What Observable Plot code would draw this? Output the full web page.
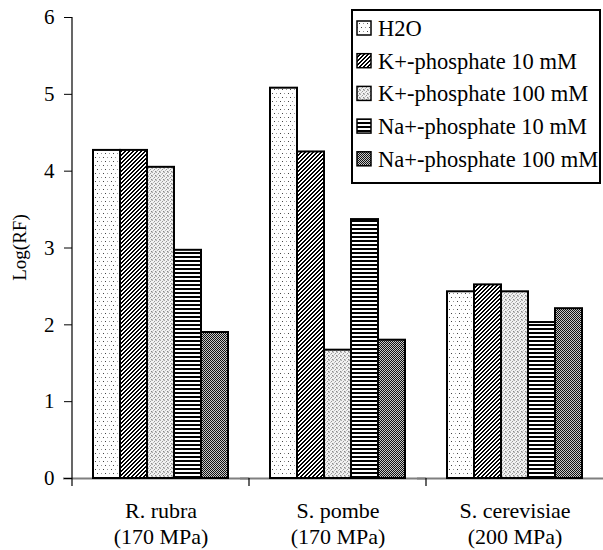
<!DOCTYPE html>
<html>
<head>
<meta charset="utf-8">
<script src="https://cdn.jsdelivr.net/npm/d3@7"></script>
<script src="https://cdn.jsdelivr.net/npm/@observablehq/plot@0.6"></script>
<style>
  html, body { margin: 0; padding: 0; background: #fff; }
  #chart svg { display: block; }
</style>
</head>
<body>
<div id="chart"></div>
<script>
// Organisms and their treatment pressure
const organisms = ["R. rubra", "S. pombe", "S. cerevisiae"];
const pressures = ["(170 MPa)", "(170 MPa)", "(200 MPa)"];

// Suspension media
const media = [
  "H2O",
  "K+-phosphate 10 mM",
  "K+-phosphate 100 mM",
  "Na+-phosphate 10 mM",
  "Na+-phosphate 100 mM"
];

// Log reduction factor per medium, one value per organism
const h2o     = [4.27, 5.08, 2.43];
const k10     = [4.27, 4.25, 2.52];
const k100    = [4.05, 1.67, 2.43];
const na10    = [2.97, 3.37, 2.03];
const na100   = [1.90, 1.80, 2.21];
const seriesValues = [h2o, k10, k100, na10, na100];

const yTicks = [0, 1, 2, 3, 4, 5, 6];

// Hatch fills for each medium
const patternIds = ["pat-h2o", "pat-k10", "pat-k100", "pat-na10", "pat-na100"];
const fills = patternIds.map(id => `url(#${id})`);

const rows = [];
organisms.forEach((org, i) => {
  media.forEach((m, j) => rows.push({organism: org, medium: m, value: seriesValues[j][i]}));
});

const serif = "'Liberation Serif', 'Times New Roman', serif";

const plot = Plot.plot({
  width: 603,
  height: 550,
  marginLeft: 72,
  marginRight: 0,
  marginTop: 17,
  marginBottom: 72,
  style: {fontFamily: serif, background: "white", color: "black"},
  fx: {domain: organisms, padding: 0, label: null},
  x: {domain: media, paddingInner: 0, paddingOuter: 0.73, axis: null},
  y: {domain: [0, 6], label: null},
  color: {domain: media, range: fills},
  marks: [
    Plot.ruleY([0], {stroke: "#7f7f7f", strokeWidth: 2, insetLeft: -9}),
    Plot.barY(rows, {
      fx: "organism",
      x: "medium",
      y: "value",
      fill: "medium",
      stroke: "black",
      strokeWidth: 2
    }),
    Plot.axisY({
      ticks: yTicks,
      tickSize: 8,
      tickPadding: 10,
      fontSize: 21,
      tickFormat: d3.format("d"),
      label: null
    }),
    Plot.axisFx({
      anchor: "bottom",
      tickSize: 0,
      tickPadding: 20,
      fontSize: 22,
      lineHeight: 1.22,
      label: null,
      tickFormat: d => d + "\n" + pressures[organisms.indexOf(d)]
    })
  ]
});

const svg = d3.select(plot);

// Pattern definitions
const defs = svg.insert("defs", ":first-child");
const px = (p, x, y, c) => p.append("rect").attr("x", x).attr("y", y)
  .attr("width", 1).attr("height", 1).attr("fill", c);

const pH = defs.append("pattern").attr("id", "pat-h2o")
  .attr("patternUnits", "userSpaceOnUse").attr("width", 8).attr("height", 8);
pH.append("rect").attr("width", 8).attr("height", 8).attr("fill", "white");
px(pH, 1, 1, "#444"); px(pH, 5, 1, "#999"); px(pH, 3, 5, "#999"); px(pH, 7, 5, "#444");

// "/" stripes, two pixels black out of four
const pK10 = defs.append("pattern").attr("id", "pat-k10")
  .attr("patternUnits", "userSpaceOnUse").attr("width", 4).attr("height", 4)
  .attr("shape-rendering", "crispEdges");
pK10.append("rect").attr("width", 4).attr("height", 4).attr("fill", "white");
for (let r = 0; r < 4; r++) {
  px(pK10, (3 - r + 4) % 4, r, "black");
  px(pK10, (4 - r) % 4, r, "black");
}

const pK100 = defs.append("pattern").attr("id", "pat-k100")
  .attr("patternUnits", "userSpaceOnUse").attr("width", 4).attr("height", 4);
pK100.append("rect").attr("width", 4).attr("height", 4).attr("fill", "#f2f2f2");
[[0,0,"#aaa"],[2,1,"#999"],[1,2,"#bbb"],[3,3,"#888"],[3,0,"#ccc"],[0,3,"#ccc"]]
  .forEach(([x, y, c]) => px(pK100, x, y, c));

const pNa10 = defs.append("pattern").attr("id", "pat-na10")
  .attr("patternUnits", "userSpaceOnUse").attr("width", 4).attr("height", 4);
pNa10.append("rect").attr("width", 4).attr("height", 4).attr("fill", "white");
pNa10.append("rect").attr("width", 4).attr("height", 2).attr("fill", "black");

const pNa100 = defs.append("pattern").attr("id", "pat-na100")
  .attr("patternUnits", "userSpaceOnUse").attr("width", 2).attr("height", 2);
pNa100.append("rect").attr("width", 2).attr("height", 2).attr("fill", "#c8c8c8");
px(pNa100, 0, 0, "#111"); px(pNa100, 1, 1, "#111");

// Axis lines and category separators from the plot's scales
const ys = plot.scale("y");
const fxs = plot.scale("fx");
const y0 = ys.apply(0), yTop = ys.apply(6);
const left = fxs.apply(organisms[0]);

const deco = svg.append("g").attr("stroke", "black").attr("stroke-width", 1.2);
deco.append("line").attr("x1", left).attr("x2", left).attr("y1", yTop).attr("y2", y0 + 8);
organisms.slice(1).forEach(o => {
  const xb = fxs.apply(o);
  deco.append("line").attr("x1", xb).attr("x2", xb).attr("y1", y0).attr("y2", y0 + 8);
});

// Vertical axis title
svg.append("text")
  .attr("transform", `translate(26,${(y0 + yTop) / 2}) rotate(-90)`)
  .attr("text-anchor", "middle")
  .attr("font-family", serif)
  .attr("font-size", 19)
  .text("Log(RF)");

// Legend box
const lg = svg.append("g").attr("transform", "translate(352,10)")
  .attr("text-anchor", "start");
lg.append("rect").attr("width", 248).attr("height", 173)
  .attr("fill", "white").attr("stroke", "black").attr("stroke-width", 2);
media.forEach((m, i) => {
  const cy = 18 + i * 32.7;
  lg.append("rect").attr("x", 5).attr("y", cy - 7).attr("width", 14).attr("height", 14)
    .attr("fill", fills[i]).attr("stroke", "black").attr("stroke-width", 1.5);
  lg.append("text").attr("x", 26).attr("y", cy).attr("dy", "0.35em")
    .attr("text-anchor", "start")
    .attr("font-family", serif).attr("font-size", 22.5).text(m);
});

document.getElementById("chart").appendChild(plot);
</script>
</body>
</html>
